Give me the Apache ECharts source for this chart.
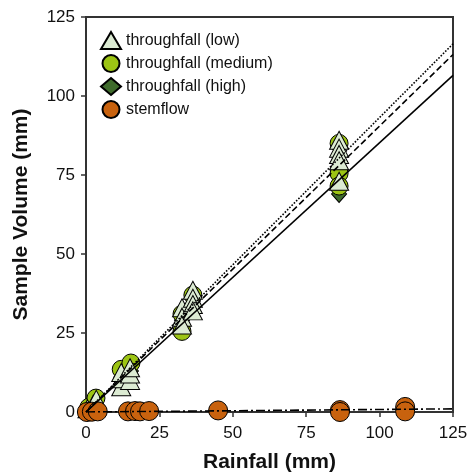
<!DOCTYPE html>
<html><head><meta charset="utf-8">
<script src="https://cdn.jsdelivr.net/npm/echarts@6/dist/echarts.min.js"></script>
<style>html,body{margin:0;padding:0;background:#fff}#c{width:475px;height:475px}</style>
</head><body><div id="c"></div>
<script>
// Series names
const seriesNames = ['throughfall (low)', 'throughfall (medium)', 'throughfall (high)', 'stemflow'];
// throughfall (low) - triangles
const lowX = [0.5, 2.5, 3.5, 12, 12, 12, 15, 15, 15, 32.7, 32.7, 32.7, 36.4, 36.4, 36.4, 36.4, 86.2, 86.2, 86.2, 86.2, 86.2];
const lowY = [1, 2.5, 4, 8, 10.5, 12.5, 10, 12, 14, 33, 30, 27.5, 38.5, 36, 34, 32, 86, 83.5, 81.5, 79.5, 73];
// throughfall (medium) - circles
const medX = [1, 3.4, 12, 15.3, 32.7, 32.7, 36.4, 86.2, 86.2, 86.2];
const medY = [1.5, 4.4, 13.5, 15.5, 31, 25.5, 37, 85, 75.5, 71.5];
// throughfall (high) - diamonds
const highX = [1, 3.4, 12, 15.3, 32.7, 36.4, 86.2, 86.2, 86.2];
const highY = [1, 3.5, 11, 13, 29, 34, 84, 79, 69];
// stemflow - circles
const stemX = [0.3, 2, 4, 14.3, 16.7, 18.4, 21.5, 45, 86.5, 86.5, 108.7, 108.7];
const stemY = [0, 0.1, 0.2, 0.2, 0.3, 0.2, 0.3, 0.5, 0.6, 0.0, 1.6, 0.2];
// fitted line slopes (through origin): low, medium, high, stemflow
const fitSlopes = [0.932, 0.905, 0.852, 0.008];
const fitTypes = ['dotted', 'dashed', 'solid', [9, 3, 2, 3]];
const xTicks = [0, 25, 50, 75, 100, 125];
const yTicks = [0, 25, 50, 75, 100, 125];

const zip = (xs, ys) => xs.map((x, i) => [x, ys[i]]);
const colors = ['#dcebd3', '#9cc414', '#3f6b2c', '#c8620e'];
const symbols = ['triangle', 'circle', 'diamond', 'circle'];
const sizes = [[19, 18], 18, [15, 17], 19];
const zs = [5, 4, 3, 6];
const pts = [zip(lowX, lowY), zip(medX, medY), zip(highX, highY), zip(stemX, stemY)];

const series = [];
seriesNames.forEach((n, i) => {
  series.push({
    name: n, type: 'scatter', data: pts[i], symbol: symbols[i], symbolSize: sizes[i],
    z: zs[i], clip: false,
    itemStyle: { color: colors[i], borderColor: '#000', borderWidth: 1, opacity: 1 }
  });
});
fitSlopes.forEach((s, i) => {
  series.push({
    type: 'line', data: [[0, 0], [125, s * 125]], symbol: 'none', z: 8, silent: true,
    lineStyle: { color: '#000', width: 1.6, type: fitTypes[i] }
  });
});

const chart = echarts.init(document.getElementById('c'));
chart.setOption({
  animation: false,
  grid: { left: 86, right: 22, top: 17, bottom: 63, show: true, borderColor: '#333', borderWidth: 2,
          containLabel: false, outerBoundsMode: 'none' },
  legend: {
    data: seriesNames.map((n, i) => ({ name: n, icon: symbols[i] })),
    orient: 'vertical', left: 95, top: 26, itemGap: 4, itemWidth: 20, itemHeight: 17,
    textStyle: { fontFamily: 'Liberation Sans', fontSize: 16, color: '#111' }
  },
  xAxis: {
    type: 'value', min: 0, max: 125, interval: 25,
    name: 'Rainfall (mm)', nameLocation: 'middle', nameGap: 40,
    nameTextStyle: { fontFamily: 'Liberation Sans', fontWeight: 'bold', fontSize: 21, color: '#111' },
    axisLine: { lineStyle: { color: '#333', width: 2 } },
    axisTick: { show: true, length: 5, lineStyle: { color: '#333', width: 1.5 } },
    axisLabel: { fontFamily: 'Liberation Sans', fontSize: 17, color: '#111', margin: 13 },
    splitLine: { show: false }
  },
  yAxis: {
    type: 'value', min: 0, max: 125, interval: 25,
    name: 'Sample Volume (mm)', nameLocation: 'middle', nameGap: 54,
    nameTextStyle: { fontFamily: 'Liberation Sans', fontWeight: 'bold', fontSize: 21, color: '#111' },
    axisLine: { lineStyle: { color: '#333', width: 2 } },
    axisTick: { show: true, length: 5, lineStyle: { color: '#333', width: 1.5 } },
    axisLabel: { fontFamily: 'Liberation Sans', fontSize: 17, color: '#111', margin: 11 },
    splitLine: { show: false }
  },
  series: series
});
</script></body></html>
